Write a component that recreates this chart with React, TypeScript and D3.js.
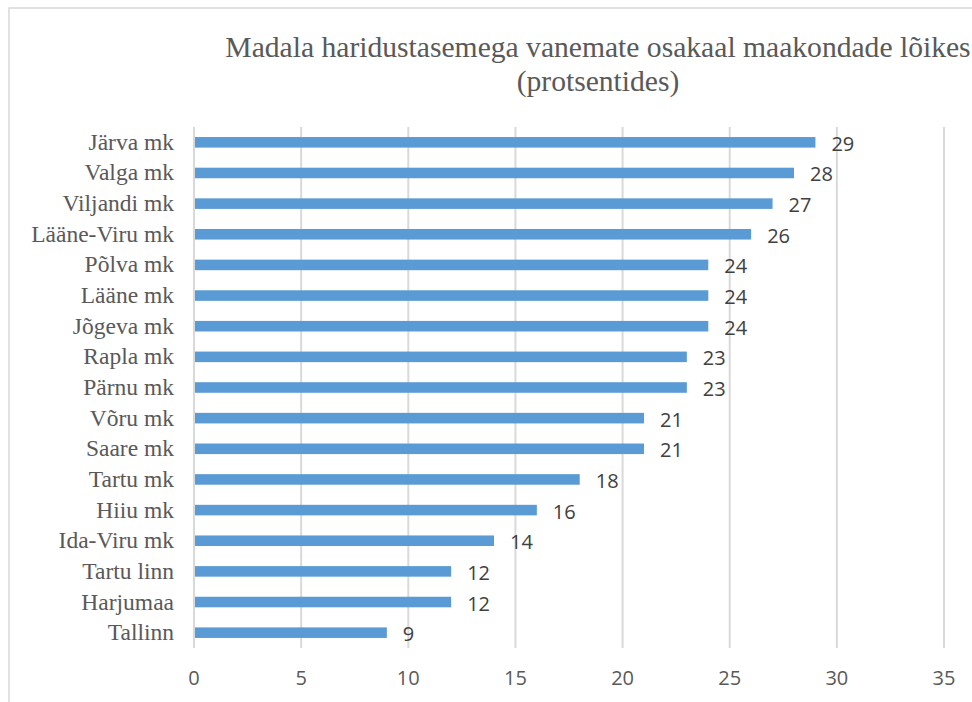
import React from "react";
import * as d3 from "d3";

const categories = [
  "Järva mk", "Valga mk", "Viljandi mk", "Lääne-Viru mk", "Põlva mk", "Lääne mk",
  "Jõgeva mk", "Rapla mk", "Pärnu mk", "Võru mk", "Saare mk", "Tartu mk",
  "Hiiu mk", "Ida-Viru mk", "Tartu linn", "Harjumaa", "Tallinn",
];
const values = [29, 28, 27, 26, 24, 24, 24, 23, 23, 21, 21, 18, 16, 14, 12, 12, 9];
const xTicks = [0, 5, 10, 15, 20, 25, 30, 35];
const titleLines = [
  "Madala haridustasemega vanemate osakaal maakondade lõikes",
  "(protsentides)",
];

const W = 972;
const H = 702;
const left = 194;
const right = 944;
const top = 127;
const bottom = 648;

export default function App() {
  const x = d3.scaleLinear().domain([0, 35]).range([left, right]);
  const y = d3.scaleBand<string>().domain(categories).range([top, bottom]).paddingInner(0).paddingOuter(0);
  const bw = y.bandwidth();
  const barH = bw / 2.9;
  const serif = "'Liberation Serif', 'Times New Roman', serif";
  const sans = "'Open Sans', 'Liberation Sans', sans-serif";

  return (
    <svg
      width={W}
      height={H}
      style={{ position: "absolute", left: 0, top: 0, background: "#fff" }}
    >
      <rect x={9} y={8} width={W + 20} height={H + 20} fill="#fff" stroke="#d9d9d9" strokeWidth={1.5} />
      {titleLines.map((t, i) => (
        <text
          key={i}
          x={598}
          y={57 + i * 34}
          textAnchor="middle"
          fontFamily={serif}
          fontSize={29.6}
          fill="#595959"
        >
          {t}
        </text>
      ))}
      {xTicks.map((t) => (
        <g key={t}>
          <line x1={x(t)} x2={x(t)} y1={top} y2={bottom} stroke="#d9d9d9" strokeWidth={2} />
          <text
            x={x(t)}
            y={685}
            textAnchor="middle"
            fontFamily={sans}
            fontSize={20}
            fill="#595959"
          >
            {t}
          </text>
        </g>
      ))}
      {categories.map((c, i) => {
        const cy = (y(c) as number) + bw / 2;
        return (
          <g key={c}>
            <rect
              x={x(0) + 1}
              y={cy - barH / 2}
              width={x(values[i]) - x(0) - 1}
              height={barH}
              fill="#5b9bd5"
            />
            <text
              x={174}
              y={cy + 7.5}
              textAnchor="end"
              fontFamily={serif}
              fontSize={23.5}
              fill="#595959"
            >
              {c}
            </text>
            <text
              x={x(values[i]) + 16}
              y={cy + 8.5}
              textAnchor="start"
              fontFamily={sans}
              fontSize={20}
              fill="#404040"
            >
              {values[i]}
            </text>
          </g>
        );
      })}
    </svg>
  );
}
